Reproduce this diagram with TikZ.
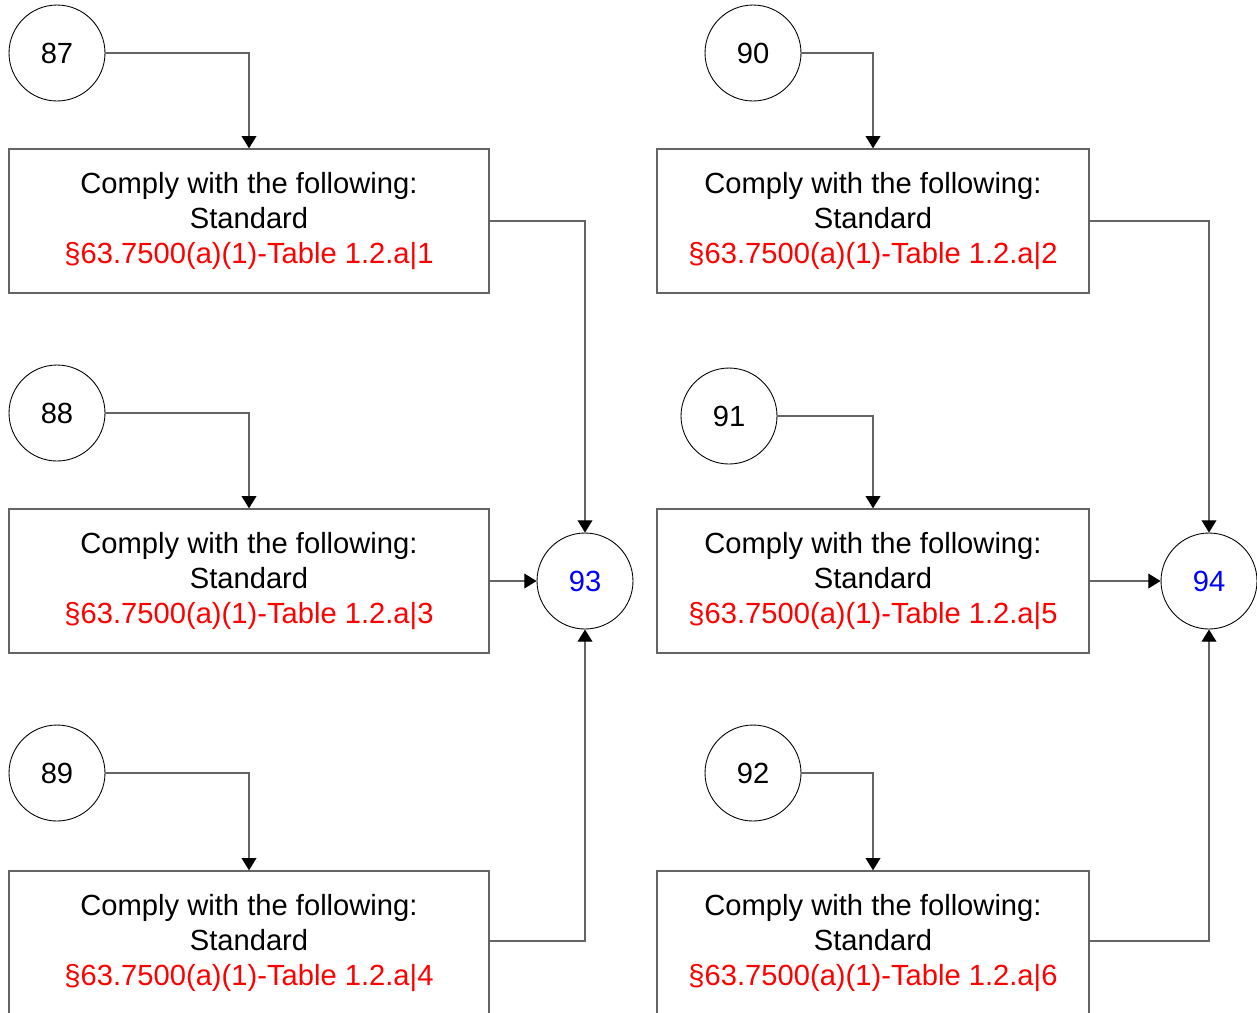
\documentclass[tikz,border=0pt]{standalone}
\usepackage{fontspec}
\setmainfont{Liberation Sans}
\usetikzlibrary{arrows.meta}
\definecolor{stdred}{RGB}{255, 0, 0}
\definecolor{refblue}{RGB}{0, 0, 255}
\definecolor{linkgray}{RGB}{100, 100, 100}
\newcommand{\comply}[1]{Comply with the following:\\Standard\\{\color{stdred}\S63.7500(a)(1)-Table 1.2.a|#1}}

\begin{document}
\begin{tikzpicture}[
      x=0.02cm, y=-0.02cm,
      req/.style={draw=linkgray, line width=0.8pt, fill=white,
                  minimum width=9.6cm, minimum height=2.88cm,
                  inner sep=0pt, align=center,
                  font=\fontsize{16.6}{19.9}\selectfont},
      wreq/.style={req, minimum width=8.64cm},
      ref/.style={circle, draw=black, line width=0.5pt,
                  minimum size=1.92cm, inner sep=0pt,
                  font=\fontsize{16.6}{19.9}\selectfont},
      lnk/.style={draw=linkgray, line width=0.8pt,
                  -{Triangle[length=7pt, width=8.4pt, color=black]}},
    ]
    \useasboundingbox (0,0) rectangle (1257,1012);

    %% left column
    \node[ref] (n87) at (57, 53) {87};
    \node[ref] (n88) at (57, 413) {88};
    \node[ref] (n89) at (57, 773) {89};
    \node[req] (c1) at (249, 221) {\comply{1}};
    \node[req] (c3) at (249, 581) {\comply{3}};
    \node[req] (c4) at (249, 943) {\comply{4}};
    \node[ref, text=refblue] (n93) at (585, 581) {93};

    %% right column
    \node[ref] (n90) at (753, 53) {90};
    \node[ref] (n91) at (729, 416) {91};
    \node[ref] (n92) at (753, 773) {92};
    \node[wreq] (c2) at (873, 221) {\comply{2}};
    \node[wreq] (c5) at (873, 581) {\comply{5}};
    \node[wreq] (c6) at (873, 943) {\comply{6}};
    \node[ref, text=refblue] (n94) at (1209, 581) {94};

    %% inputs
    \draw[lnk] (n87) -| (c1);
    \draw[lnk] (n88) -| (c3);
    \draw[lnk] (n89) -| (c4);
    \draw[lnk] (n90) -| (c2);
    \draw[lnk] (n91) -| (c5);
    \draw[lnk] (n92) -| (c6);

    %% outputs
    \draw[lnk] (c1) -| (n93);
    \draw[lnk] (c3) -- (n93);
    \draw[lnk] (c4.east |- 0,941) -| (n93);
    \draw[lnk] (c2) -| (n94);
    \draw[lnk] (c5) -- (n94);
    \draw[lnk] (c6.east |- 0,941) -| (n94);
\end{tikzpicture}
\end{document}
